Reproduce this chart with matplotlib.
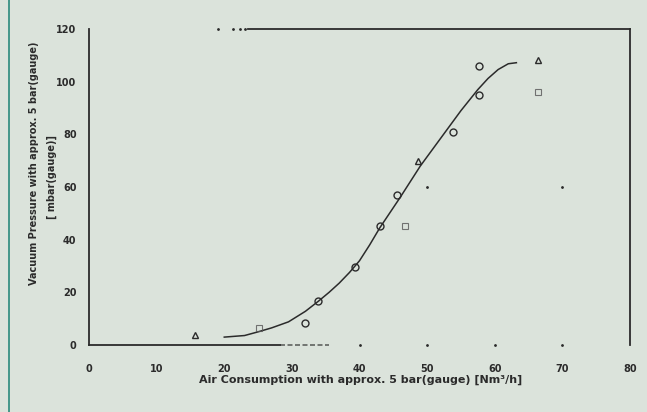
import numpy as np
import matplotlib.pyplot as plt

#### data
curve_x = [20, 23, 25, 27, 29.5, 32, 34, 35.5, 37, 38.5, 40, 41.5, 43, 46, 49, 52, 55, 57.5,
           59, 60.5, 62, 63.2]
curve_y = [3.0, 3.6, 5.0, 6.5, 8.8, 12.8, 16.8, 20.0, 23.5, 27.5, 32, 38, 44.5, 56, 68, 78.5,
           89, 97, 101.2, 104.6, 106.8, 107.2]

circle_x = [32.0, 33.9, 39.3, 43.0, 45.5, 53.9, 57.6, 57.6]
circle_y = [8.4, 16.8, 29.7, 45.3, 56.8, 80.8, 94.9, 105.9]

triangle_x = [15.6, 48.7, 66.4]
triangle_y = [3.8, 69.7, 108.2]

square_x = [25.1, 46.8, 66.4]
square_y = [6.5, 45.3, 96.0]

xticks = [0, 10, 20, 30, 40, 50, 60, 70, 80]
yticks = [0, 20, 40, 60, 80, 100, 120]

#### style
bg = '#dbe3db'
ink = '#2b2b2b'
plt.rc('font', family='DejaVu Sans', size=7)

fig = plt.figure(figsize=(6.47, 4.12), dpi=100, facecolor=bg)
ax = fig.add_axes([0.1376, 0.1626, 0.9737 - 0.1376, 0.9296 - 0.1626])
ax.set_facecolor(bg)

# fitted curve
ax.plot(curve_x, curve_y, color=ink, lw=1.1, zorder=3)

# measured points
ax.plot(circle_x, circle_y, ls='None', marker='o', ms=5, mfc='none', mec=ink, mew=1.0, zorder=4)
ax.plot(triangle_x, triangle_y, ls='None', marker='^', ms=4.5, mfc='none', mec=ink, mew=1.0, zorder=4)
ax.plot(square_x, square_y, ls='None', marker='s', ms=4, mfc='none', mec='#555555', mew=0.8,
        zorder=4, alpha=0.8)

ax.set_xlim(0, 80)
ax.set_ylim(0, 120)
ax.set_xticks(xticks)
ax.set_yticks(yticks)
ax.tick_params(length=0, labelcolor=ink)
ax.tick_params(axis='x', pad=14)
ax.tick_params(axis='y', pad=9)
for lab in ax.get_xticklabels() + ax.get_yticklabels():
    lab.set_fontweight('bold')

# spines, partially lost in the scan
for side in ['left', 'right', 'top', 'bottom']:
    ax.spines[side].set_color(ink)
    ax.spines[side].set_linewidth(1.3)
ax.spines['top'].set_bounds(23.5, 80)
ax.spines['bottom'].set_bounds(0, 28.2)
ax.plot([28.2, 35.5], [0, 0], color=ink, lw=1.2, ls=(0, (3, 1.5)), clip_on=False, alpha=0.7)
ax.plot([40, 50, 60, 70], [0, 0, 0, 0], ls='None', marker='.', ms=2, color=ink, clip_on=False)
ax.plot([50, 70], [60, 60], ls='None', marker='.', ms=2, color=ink)
ax.plot([19, 21.3, 22.3, 23.0], [120, 120, 120, 120], ls='None', marker='.', ms=2, color=ink,
        clip_on=False)

# axis labels
fig.text(0.557, 0.078, 'Air Consumption with approx. 5 bar(gauge) [Nm³/h]',
         ha='center', va='center', fontsize=8, fontweight='bold', color=ink)
fig.text(0.052, 0.604, 'Vacuum Pressure with approx. 5 bar(gauge)', rotation=90,
         ha='center', va='center', fontsize=7, fontweight='bold', color=ink)
fig.text(0.080, 0.570, '[ mbar(gauge)]', rotation=90,
         ha='center', va='center', fontsize=7, fontweight='bold', color=ink)

# teal frame line on the left edge
fig.add_artist(plt.Line2D([0.0139, 0.0139], [0, 1], color='#2a8a7c', lw=1.2))

plt.savefig('out.png', dpi=100, facecolor=bg)
